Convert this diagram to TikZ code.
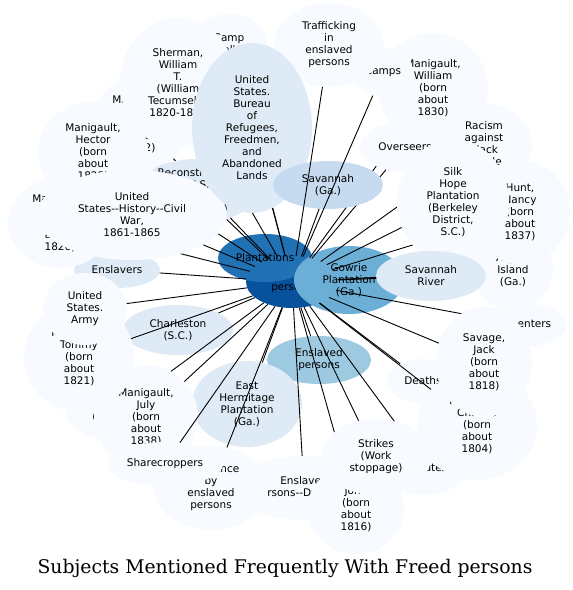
\documentclass[tikz,border=0pt]{standalone}
\usepackage{fontspec}
\usetikzlibrary{shapes.geometric}
\newfontfamily\subjfont{DejaVu Sans}
\newfontfamily\titlefont{DejaVu Serif}
\definecolor{bl0}{HTML}{F7FBFF}
\definecolor{bl1}{HTML}{DEEBF7}
\definecolor{bl2}{HTML}{C6DBEF}
\definecolor{bl3}{HTML}{9ECAE1}
\definecolor{bl4}{HTML}{6BAED6}
\definecolor{bl6}{HTML}{2171B5}
\definecolor{bl7}{HTML}{08519C}
\begin{document}
\begin{tikzpicture}[x=1pt,y=-1pt,
  subj/.style={ellipse,inner sep=0pt,align=center,font=\subjfont\fontsize{10.5}{12}\selectfont},
  sz/.style 2 args={minimum width=#1pt,minimum height=#2pt},
  link/.style={line width=0.9pt}]
\useasboundingbox (0,0) rectangle (573,590);
% core
\node[subj,fill=bl7,sz={92}{52}] (fp) at (292,282) {Freed\\persons};
\node[subj,fill=bl6,sz={94}{48}] (plant) at (265,258) {Plantations};
\node[subj,fill=bl4,sz={110}{68}] (gowrie) at (349,280) {Gowrie\\Plantation\\(Ga.)};
% middle ring
\node[subj,fill=bl3,sz={104}{48}] (ensl) at (319,360) {Enslaved\\persons};
\draw[link] (fp) -- (ensl);
\node[subj,fill=bl1,sz={110}{50}] (chas) at (178,330) {Charleston\\(S.C.)};
\draw[link] (fp) -- (chas);
\node[subj,fill=bl1,sz={110}{86}] (hermitage) at (247,404) {East\\Hermitage\\Plantation\\(Ga.)};
\draw[link] (fp) -- (hermitage);
\node[subj,fill=bl1,sz={86}{36}] (enslavers) at (117,270) {Enslavers};
\draw[link] (fp) -- (enslavers);
% upper left
\node[subj,fill=bl0,sz={76}{60}] (camp) at (229,44) {Camp\\talk};
\draw[link] (fp) -- (camp);
\node[subj,fill=bl0,sz={96}{96}] (louis) at (140,124) {Manigault,\\Louis\\(born\\about\\1832)};
\draw[link] (fp) -- (louis);
\node[subj,fill=bl0,sz={116}{130}] (sherman) at (178,83) {Sherman,\\William\\T.\\(William\\Tecumseh),\\1820-1891};
\draw[link] (fp) -- (sherman);
\node[subj,fill=bl0,sz={110}{100}] (hector) at (93,152) {Manigault,\\Hector\\(born\\about\\1828)};
\draw[link] (fp) -- (hector);
\node[subj,fill=bl1,sz={120}{60}] (recons) at (197,191) {Reconstruction\\(U.S.\\history,\\1865-1877)};
\draw[link] (fp) -- (recons);
\node[subj,fill=bl0,sz={104}{90}] (mg1826) at (60,223) {Manigault,\\Gabriel\\(born\\about\\1826)};
\draw[link] (fp) -- (mg1826);
\node[subj,fill=bl0,sz={190}{90}] (civilwar) at (132,215) {United\\States-{}-History-{}-Civil\\War,\\1861-1865};
\draw[link] (fp) -- (civilwar);
% upper right
\node[subj,fill=bl0,sz={110}{110}] (william) at (433,88) {Manigault,\\William\\(born\\about\\1830)};
\draw[link] (fp) -- (william);
\node[subj,fill=bl0,sz={60}{50}] (camps) at (383,72) {Camps};
\node[subj,fill=bl0,sz={110}{84}] (traffic) at (329,45) {Trafficking\\in\\enslaved\\persons};
\node[subj,fill=bl1,sz={120}{170}] (bureau) at (252,128) {United\\States.\\Bureau\\of\\Refugees,\\Freedmen,\\and\\Abandoned\\Lands};
\draw[link] (fp) -- (bureau);
\node[subj,fill=bl0,sz={96}{84}] (racism) at (484,145) {Racism\\against\\black\\people};
\draw[link] (fp) -- (racism);
\node[subj,fill=bl0,sz={90}{50}] (overseers) at (405,147) {Overseers};
\draw[link] (fp) -- (overseers);
\node[subj,fill=bl2,sz={110}{48}] (savga) at (328,185) {Savannah\\(Ga.)};
\draw[link] (fp) -- (savga);
\draw[link] (fp) -- (camps);
\draw[link] (fp) -- (traffic);
% right
\node[subj,fill=bl0,sz={80}{80}] (argyle) at (513,270) {Argyle\\Island\\(Ga.)};
\draw[link] (fp) -- (argyle);
\node[subj,fill=bl0,sz={100}{104}] (hunt) at (520,212) {Hunt,\\Nancy\\(born\\about\\1837)};
\draw[link] (fp) -- (hunt);
\node[subj,fill=bl0,sz={112}{124}] (silkhope) at (453,202) {Silk\\Hope\\Plantation\\(Berkeley\\District,\\S.C.)};
\draw[link] (fp) -- (silkhope);
\node[subj,fill=bl1,sz={110}{50}] (savriver) at (431,276) {Savannah\\River};
\draw[link] (fp) -- (savriver);
% lower right
\node[subj,fill=bl0,sz={90}{44}] (carpenters) at (522,325) {Carpenters};
\draw[link] (fp) -- (carpenters);
\node[subj,fill=bl0,sz={72}{44}] (deaths) at (423,381) {Deaths};
\draw[link] (fp) -- (deaths);
\node[subj,fill=bl0,sz={90}{64}] (labor) at (425,463) {Labor\\disputes};
\draw[link] (fp) -- (labor);
\node[subj,fill=bl0,sz={120}{110}] (charles) at (477,425) {Manigault,\\Charles\\(born\\about\\1804)};
\draw[link] (fp) -- (charles);
\node[subj,fill=bl0,sz={96}{110}] (savage) at (484,362) {Savage,\\Jack\\(born\\about\\1818)};
\draw[link] (fp) -- (savage);
% bottom
\node[subj,fill=bl0,sz={116}{64}] (ensldw) at (304,488) {Enslaved\\persons-{}-Dwellings};
\draw[link] (fp) -- (ensldw);
\node[subj,fill=bl0,sz={96}{90}] (john) at (356,509) {John\\(born\\about\\1816)};
\draw[link] (fp) -- (john);
\node[subj,fill=bl0,sz={110}{76}] (strikes) at (376,457) {Strikes\\(Work\\stoppage)};
\draw[link] (fp) -- (strikes);
\node[subj,fill=bl0,sz={114}{84}] (resist) at (211,488) {Resistance\\by\\enslaved\\persons};
\draw[link] (fp) -- (resist);
% lower left
\node[subj,fill=bl0,sz={100}{56}] (drivers) at (116,412) {Drivers\\(Slavery)};
\draw[link] (fp) -- (drivers);
\node[subj,fill=bl0,sz={104}{104}] (july) at (146,417) {Manigault,\\July\\(born\\about\\1838)};
\draw[link] (fp) -- (july);
\node[subj,fill=bl0,sz={116}{44}] (sharecrop) at (165,464) {Sharecroppers};
\draw[link] (fp) -- (sharecrop);
\node[subj,fill=bl0,sz={110}{110}] (tommy) at (79,357) {Manigault,\\Tommy\\(born\\about\\1821)};
\draw[link] (fp) -- (tommy);
\node[subj,fill=bl0,sz={84}{72}] (army) at (85,309) {United\\States.\\Army};
\draw[link] (fp) -- (army);
% title
\node[font=\titlefont\fontsize{18.8}{22}\selectfont] (title) at (285,568) {Subjects Mentioned Frequently With Freed persons};
\end{tikzpicture}
\end{document}
